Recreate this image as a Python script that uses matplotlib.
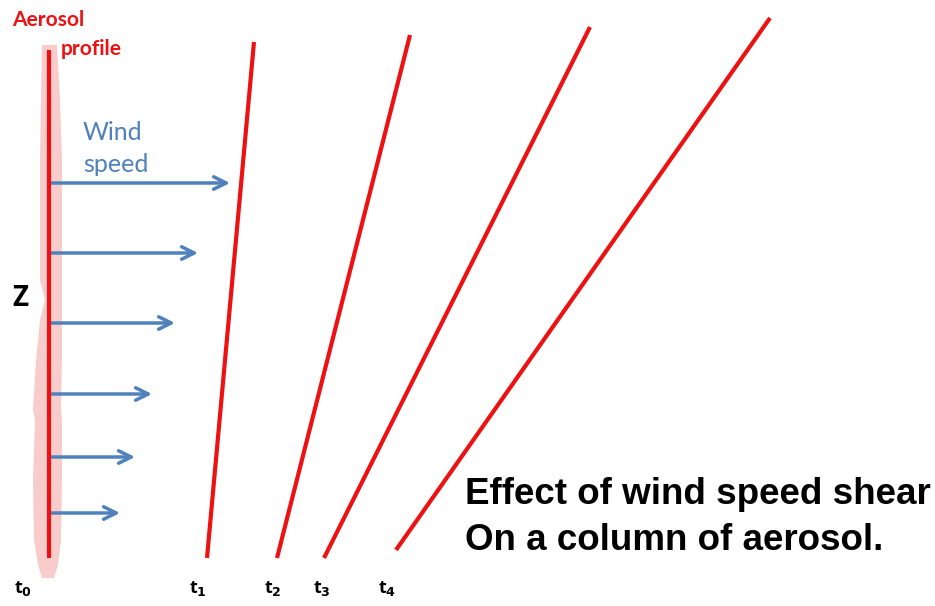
import matplotlib
matplotlib.use("Agg")
import matplotlib.pyplot as plt
from matplotlib.patches import Polygon

# Column positions at each time (pixel space of the slide)
times = ["0", "1", "2", "3", "4"]
col_bottom_x = [49, 207, 277, 324, 396]
col_bottom_y = [558, 558, 558, 558, 550]
col_top_x = [49, 254, 410, 590, 770]
col_top_y = [50, 42, 35, 27, 18]
label_x = [14, 189, 264, 313, 378]

# Wind speed arrows: height and arrow tip
wind_y = [183, 253, 323, 394, 457, 513]
wind_tip_x = [230, 198, 175, 152, 135, 120]

# Aerosol blob outline (left and right edges)
blob_y = [45, 100, 160, 230, 280, 300, 320, 360, 410, 420, 480, 540, 565, 578]
blob_left = [42, 41, 40, 40, 40, 45, 40, 36, 33, 35, 33, 34, 38, 42]
blob_right = [57, 60, 62, 62, 62, 62, 62, 62, 61, 62, 62, 61, 58, 54]

RED = "#ee1111"
BLUE = "#4f81bd"
PINK = "#f9cccc"

fig = plt.figure(figsize=(9.35, 6.06), dpi=100)
ax = fig.add_axes([0, 0, 1, 1])
ax.set_xlim(0, 935)
ax.set_ylim(606, 0)
ax.axis("off")

outline = list(zip(blob_left, blob_y)) + list(zip(blob_right[::-1], blob_y[::-1]))
ax.add_patch(Polygon(outline, closed=True, facecolor=PINK, edgecolor="none", zorder=1))

for xb, yb, xt, yt in zip(col_bottom_x, col_bottom_y, col_top_x, col_top_y):
    ax.plot([xb, xt], [yb, yt], color=RED, lw=3, solid_capstyle="butt", zorder=3)

for y, xt in zip(wind_y, wind_tip_x):
    ax.annotate("", xy=(xt, y), xytext=(50, y),
                arrowprops=dict(arrowstyle="->,head_length=0.9,head_width=0.45",
                                color=BLUE, lw=2.5, shrinkA=0, shrinkB=0), zorder=2)

ax.text(12, 20, "Aerosol", color=RED, fontsize=15, fontweight="bold",
        family="Lato", va="center", ha="left")
ax.text(61, 49, "profile", color=RED, fontsize=15, fontweight="bold",
        family="Lato", va="center", ha="left")
ax.text(83, 133, "Wind", color=BLUE, fontsize=18, family="Lato", va="center", ha="left")
ax.text(83, 164, "speed", color=BLUE, fontsize=18, family="Lato", va="center", ha="left")
ax.text(12, 298, "Z", color="black", fontsize=20, fontweight="bold",
        family="Open Sans", va="center", ha="left")

for t, x in zip(times, label_x):
    ax.text(x, 588, r"t$_{\mathbf{%s}}$" % t, color="black", fontsize=13,
            fontweight="bold", family="Open Sans", va="center", ha="left")

ax.text(465, 495, "Effect of wind speed shear", fontsize=26.5, fontweight="bold",
        family="Liberation Sans", va="center", ha="left")
ax.text(465, 540, "On a column of aerosol.", fontsize=26.5, fontweight="bold",
        family="Liberation Sans", va="center", ha="left")

fig.savefig("out.png", dpi=100)
